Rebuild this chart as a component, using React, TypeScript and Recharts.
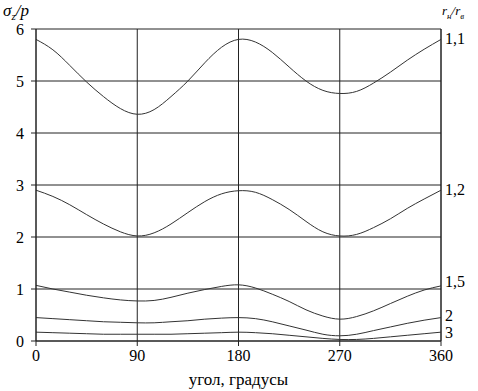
import { LineChart, Line, XAxis, YAxis, CartesianGrid, ReferenceLine } from 'recharts'

const angles = [0, 15, 30, 45, 60, 75, 90, 105, 120, 135, 150, 165, 180, 195, 210, 225, 240, 255, 270, 285, 300, 315, 330, 345, 360]

const r11 = [5.8, 5.6, 5.3, 4.98, 4.7, 4.47, 4.36, 4.45, 4.7, 5.0, 5.35, 5.65, 5.8, 5.75, 5.55, 5.27, 5.0, 4.82, 4.76, 4.8, 4.96, 5.17, 5.4, 5.61, 5.8]
const r12 = [2.9, 2.78, 2.62, 2.43, 2.25, 2.1, 2.02, 2.08, 2.25, 2.47, 2.68, 2.83, 2.89, 2.86, 2.72, 2.53, 2.3, 2.1, 2.02, 2.05, 2.18, 2.35, 2.55, 2.73, 2.9]
const r15 = [1.07, 1.0, 0.94, 0.88, 0.83, 0.79, 0.77, 0.78, 0.84, 0.92, 0.99, 1.05, 1.08, 1.02, 0.9, 0.76, 0.6, 0.48, 0.42, 0.47, 0.58, 0.72, 0.86, 0.98, 1.06]
const r2 = [0.45, 0.43, 0.41, 0.39, 0.37, 0.36, 0.35, 0.35, 0.37, 0.39, 0.42, 0.44, 0.45, 0.43, 0.37, 0.29, 0.21, 0.13, 0.1, 0.13, 0.2, 0.27, 0.34, 0.4, 0.45]
const r3 = [0.17, 0.16, 0.15, 0.14, 0.13, 0.13, 0.13, 0.13, 0.13, 0.14, 0.15, 0.16, 0.17, 0.16, 0.14, 0.11, 0.08, 0.05, 0.03, 0.03, 0.05, 0.08, 0.11, 0.14, 0.17]

const series = [
  { key: 'r11', label: '1,1', dy: 5 },
  { key: 'r12', label: '1,2', dy: 5 },
  { key: 'r15', label: '1,5', dy: 1 },
  { key: 'r2', label: '2', dy: 3 },
  { key: 'r3', label: '3', dy: 6 },
]

const xTicks = [0, 90, 180, 270, 360]
const yTicks = [0, 1, 2, 3, 4, 5, 6]

const data = angles.map((a, i) => ({ a, r11: r11[i], r12: r12[i], r15: r15[i], r2: r2[i], r3: r3[i] }))

const font = "'Liberation Serif', 'Times New Roman', Tinos, 'DejaVu Serif', serif"

function endLabel(text: string, dy: number) {
  return (props: any) => {
    const { x, y, index } = props
    if (index !== angles.length - 1) return null
    return (
      <text x={x + 4} y={y + dy} fontSize={16} style={{ fontFamily: font }} fill="#000">
        {text}
      </text>
    )
  }
}

export default function App() {
  return (
    <div style={{ position: 'fixed', left: 0, top: 0, width: 478, height: 391, background: '#fff', fontFamily: font }}>
      <LineChart width={478} height={391} data={data} margin={{ top: 29, right: 37, bottom: 0, left: 0 }} style={{ fontFamily: font }}>
        <CartesianGrid stroke="#222" strokeWidth={1} />
        <XAxis
          dataKey="a"
          type="number"
          domain={[0, 360]}
          ticks={xTicks}
          height={50}
          tickSize={5}
          tickMargin={4}
          stroke="#222"
          tick={{ fill: '#000', fontSize: 16 }}
          label={{ value: 'угол, градусы', position: 'insideBottom', offset: 6, fill: '#000', fontSize: 17 }}
        />
        <YAxis
          domain={[0, 6]}
          ticks={yTicks}
          width={36}
          tickSize={5}
          tickMargin={7}
          stroke="#222"
          tick={{ fill: '#000', fontSize: 16 }}
        />
        <ReferenceLine x={360} stroke="#222" />
        {series.map((s) => (
          <Line
            key={s.key}
            dataKey={s.key}
            type="natural"
            stroke="#333"
            strokeWidth={1}
            dot={false}
            isAnimationActive={false}
            label={endLabel(s.label, s.dy)}
          />
        ))}
      </LineChart>
      <div style={{ position: 'absolute', left: 3, top: 0, fontSize: 17, fontStyle: 'italic', lineHeight: '22px' }}>
        σ<sub style={{ fontSize: 11 }}>z</sub>/<span>p</span>
      </div>
      <div style={{ position: 'absolute', left: 442, top: 2, fontSize: 13, fontStyle: 'italic', lineHeight: '18px' }}>
        r<sub style={{ fontSize: 9 }}>н</sub>/r<sub style={{ fontSize: 9 }}>в</sub>
      </div>
    </div>
  )
}
